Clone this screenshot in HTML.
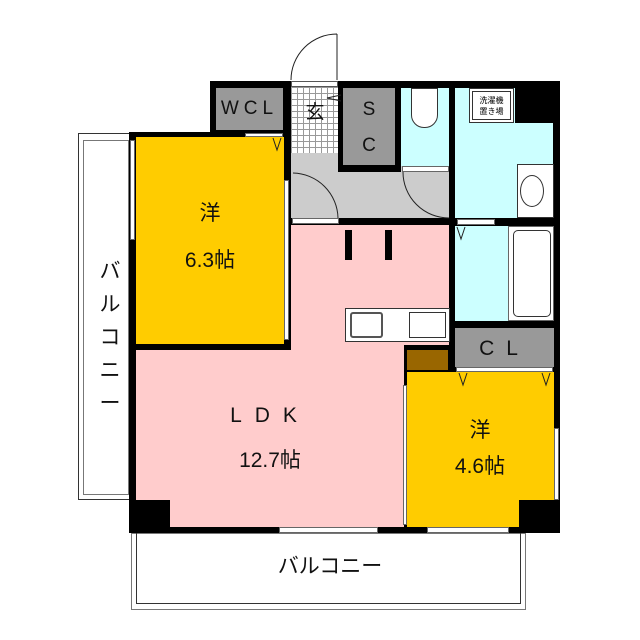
<!DOCTYPE html><html><head><meta charset="utf-8"><style>
body{margin:0;width:640px;height:640px;background:#fff;position:relative;overflow:hidden;font-family:"Liberation Sans","Noto Sans CJK JP",sans-serif}
div{position:absolute;box-sizing:border-box}
.t{color:#111;text-align:center;line-height:1}
</style></head><body>
<div style="left:78px;top:133px;width:53px;height:367px;border:1px solid #333;"></div>
<div style="left:83px;top:140px;width:46px;height:355px;border:1px solid #777;"></div>
<div style="left:131px;top:533px;width:395px;height:77px;border:1px solid #777;"></div>
<div style="left:136px;top:533px;width:385px;height:71px;border:1px solid #333;border-top:none"></div>
<div style="left:210px;top:81px;width:350px;height:60px;background:#000"></div>
<div style="left:129px;top:132px;width:431px;height:401px;background:#000"></div>
<div style="left:216px;top:88px;width:67px;height:42px;background:#999"></div>
<div style="left:291px;top:81px;width:47px;height:72px;background-color:#fff;background-image:linear-gradient(#999 1px,transparent 1px),linear-gradient(90deg,#999 1px,transparent 1px);background-size:6px 6px"></div>
<div style="left:291px;top:81px;width:47px;height:6px;background:#fff;border:1px solid #555"></div>
<div style="left:291px;top:153px;width:158px;height:65px;background:#ccc"></div>
<div style="left:338px;top:88px;width:5px;height:84px;background:#000"></div>
<div style="left:343px;top:88px;width:52px;height:77px;background:#999"></div>
<div style="left:343px;top:165px;width:58px;height:7px;background:#000"></div>
<div style="left:395px;top:88px;width:6px;height:84px;background:#000"></div>
<div style="left:401px;top:88px;width:48px;height:78px;background:#cff"></div>
<div style="left:455px;top:88px;width:98px;height:130px;background:#cff"></div>
<div style="left:515px;top:88px;width:38px;height:35px;background:#000"></div>
<div style="left:136px;top:137px;width:148px;height:207px;background:#fc0"></div>
<div style="left:291px;top:225px;width:158px;height:120px;background:#fcc"></div>
<div style="left:136px;top:350px;width:268px;height:177px;background:#fcc"></div>
<div style="left:291px;top:300px;width:113px;height:60px;background:#fcc"></div>
<div style="left:345px;top:230px;width:7px;height:30px;background:#000"></div>
<div style="left:385px;top:230px;width:7px;height:30px;background:#000"></div>
<div style="left:455px;top:226px;width:99px;height:95px;background:#cff"></div>
<div style="left:455px;top:328px;width:99px;height:39px;background:#999"></div>
<div style="left:407px;top:350px;width:41px;height:20px;background:#960"></div>
<div style="left:407px;top:372px;width:147px;height:155px;background:#fc0"></div>
<div style="left:129px;top:500px;width:41px;height:33px;background:#000"></div>
<div style="left:519px;top:500px;width:41px;height:33px;background:#000"></div>
<div style="left:345px;top:308px;width:105px;height:34px;background:#fff;border:1px solid #333"></div>
<div style="left:350px;top:312px;width:33px;height:26px;border:2px solid #555;border-radius:3px"></div>
<div style="left:409px;top:312px;width:37px;height:26px;border:1px solid #333"></div>
<div style="left:411px;top:88px;width:27px;height:40px;background:#fff;border:1px solid #333;border-radius:0 0 13px 13px"></div>
<div style="left:469px;top:88px;width:45px;height:35px;background:#fff;border:1px solid #333"></div>
<div style="left:472px;top:91px;width:39px;height:29px;border:1px solid #333;font-size:8px;text-align:center;line-height:11px;padding-top:3px">洗濯機<br>置き場</div>
<div style="left:517px;top:164px;width:37px;height:54px;background:#fff;border:1px solid #333"></div>
<div style="left:520px;top:175px;width:24px;height:32px;border:1px solid #333;border-radius:50%"></div>
<div style="left:508px;top:226px;width:46px;height:95px;background:#fff;border:1px solid #666"></div>
<div style="left:513px;top:230px;width:38px;height:87px;border:1px solid #333;border-radius:5px"></div>
<div style="left:245px;top:133px;width:38px;height:4px;background:#fff;border:1px solid #666"></div>
<div style="left:292px;top:218px;width:47px;height:6px;background:#fff;border:1px solid #666"></div>
<div style="left:402px;top:166px;width:47px;height:6px;background:#fff;border:1px solid #666"></div>
<div style="left:457px;top:219px;width:38px;height:6px;background:#fff;border:1px solid #666"></div>
<div style="left:456px;top:367px;width:97px;height:5px;background:#fff;border:1px solid #666"></div>
<div style="left:279px;top:527px;width:99px;height:6px;background:#fff;border:1px solid #666"></div>
<div style="left:427px;top:527px;width:82px;height:6px;background:#fff;border:1px solid #666"></div>
<div style="left:130px;top:140px;width:5px;height:100px;background:#fff;border:1px solid #666"></div>
<div style="left:284px;top:180px;width:5px;height:160px;background:#fff;border:1px solid #666"></div>
<div style="left:403px;top:385px;width:4px;height:140px;background:#fff;border:1px solid #666"></div>
<div style="left:554px;top:428px;width:5px;height:72px;background:#fff;border:1px solid #666"></div>
<svg style="position:absolute;left:0;top:0" width="640" height="640"><g fill="none" stroke="#222" stroke-width="1">
<path d="M337 34 A46 46 0 0 0 291 80 M337 34 V80"/>
<path d="M293 173 A46 46 0 0 1 338 218"/>
<path d="M403 172 A46 46 0 0 0 449 218"/>
<path d="M273 138 L277 150 L281 138 M457 227 L461 239 L465 227 M459 373 L463 385 L467 373 M542 373 L546 385 L550 373 M341 95 L327 98 L341 101"/>
</g></svg>
<div class="t" style="left:216px;top:99px;width:67px;font-size:19px;letter-spacing:5px">WCL</div>
<div class="t" style="left:300px;top:103px;width:30px;font-size:19px">玄</div>
<div class="t" style="left:354px;top:92px;width:30px;font-size:19px;line-height:36px">S<br>C</div>
<div class="t" style="left:455px;top:338px;width:99px;font-size:21px;letter-spacing:12px">CL</div>
<div class="t" style="left:150px;top:203px;width:120px;font-size:21px">洋</div>
<div class="t" style="left:150px;top:250px;width:120px;font-size:21px">6.3帖</div>
<div class="t" style="left:200px;top:405px;width:140px;font-size:21px;letter-spacing:13px">LDK</div>
<div class="t" style="left:210px;top:450px;width:120px;font-size:21px">12.7帖</div>
<div class="t" style="left:420px;top:420px;width:120px;font-size:21px">洋</div>
<div class="t" style="left:420px;top:456px;width:120px;font-size:21px">4.6帖</div>
<div class="t" style="left:95px;top:255px;width:30px;font-size:21px;line-height:33px">バ<br>ル<br>コ<br>ニ<br>ー</div>
<div class="t" style="left:200px;top:556px;width:260px;font-size:21px">バルコニー</div>
</body></html>
